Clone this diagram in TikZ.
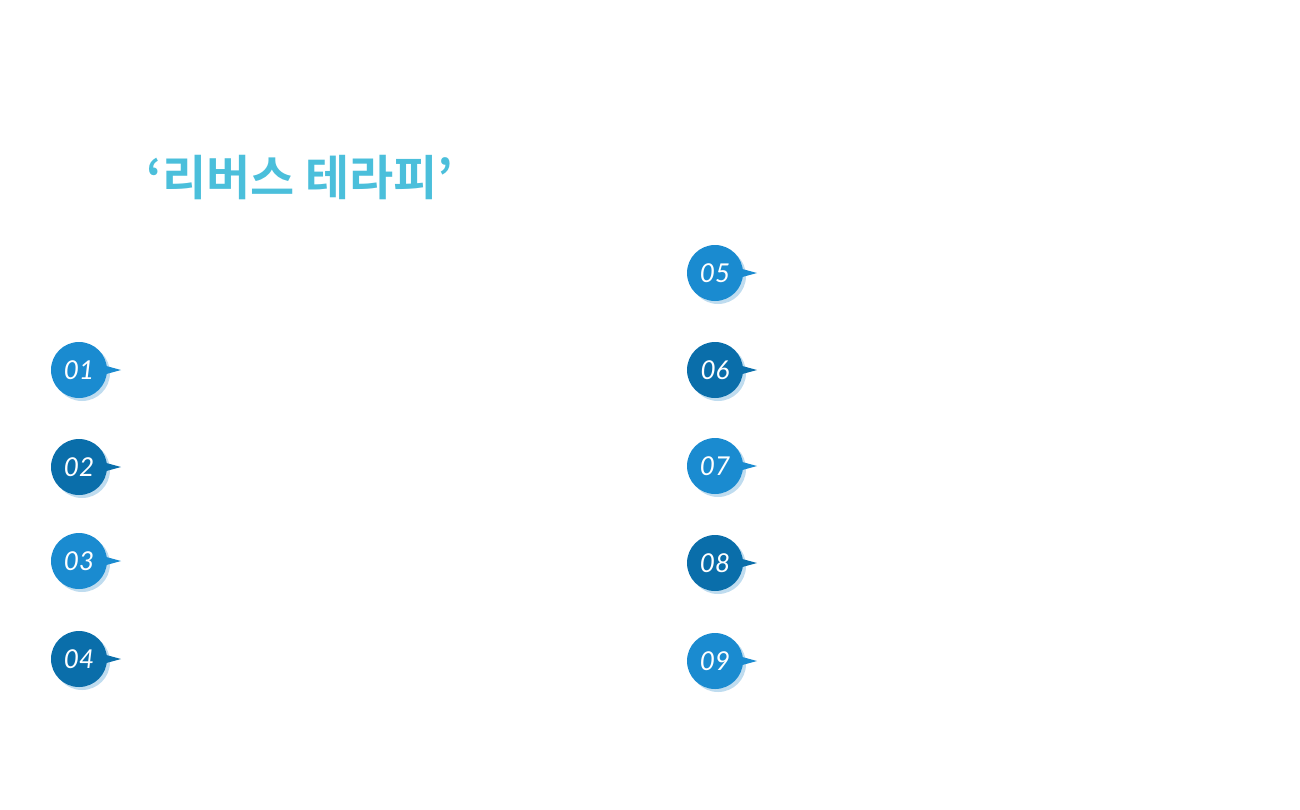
\documentclass[tikz,border=0pt]{standalone}
\usepackage{fontspec}
\newfontfamily\krfont{Noto Sans CJK KR Bold}
\newfontfamily\numfont{Lato}
\definecolor{lightblue}{HTML}{1A8BD0}
\definecolor{darkblue}{HTML}{0A6EAA}
\definecolor{shadowblue}{HTML}{BFDCEF}
\definecolor{titlecyan}{HTML}{4BBFDB}
\tikzset{
  badge/.style={circle,minimum size=28pt,inner sep=0pt,text=white,font=\numfont\itshape\fontsize{13}{13}\selectfont}
}
\newcommand{\numbadge}[4]{% name, x, y, colour
  \fill[shadowblue] (#2+3,#3+3) circle (28);
  \fill[#4] (#2+20,#3-6) -- (#2+42,#3) -- (#2+20,#3+6) -- cycle;
  \node[badge,fill=#4] (#1) at (#2,#3) {#1};
}
\begin{document}
\begin{tikzpicture}[x=0.5pt,y=-0.5pt]
  \useasboundingbox (0,0) rectangle (1300,809);

  \node[text=titlecyan,font=\krfont\fontsize{24}{24}\selectfont] (title) at (300,178) {‘리버스 테라피’};

  % left column
  \numbadge{01}{79}{370}{lightblue}
  \numbadge{02}{79}{467}{darkblue}
  \numbadge{03}{79}{561}{lightblue}
  \numbadge{04}{79}{659}{darkblue}

  % right column
  \numbadge{05}{715}{273}{lightblue}
  \numbadge{06}{715}{370}{darkblue}
  \numbadge{07}{715}{466}{lightblue}
  \numbadge{08}{715}{563}{darkblue}
  \numbadge{09}{715}{661}{lightblue}
\end{tikzpicture}
\end{document}
